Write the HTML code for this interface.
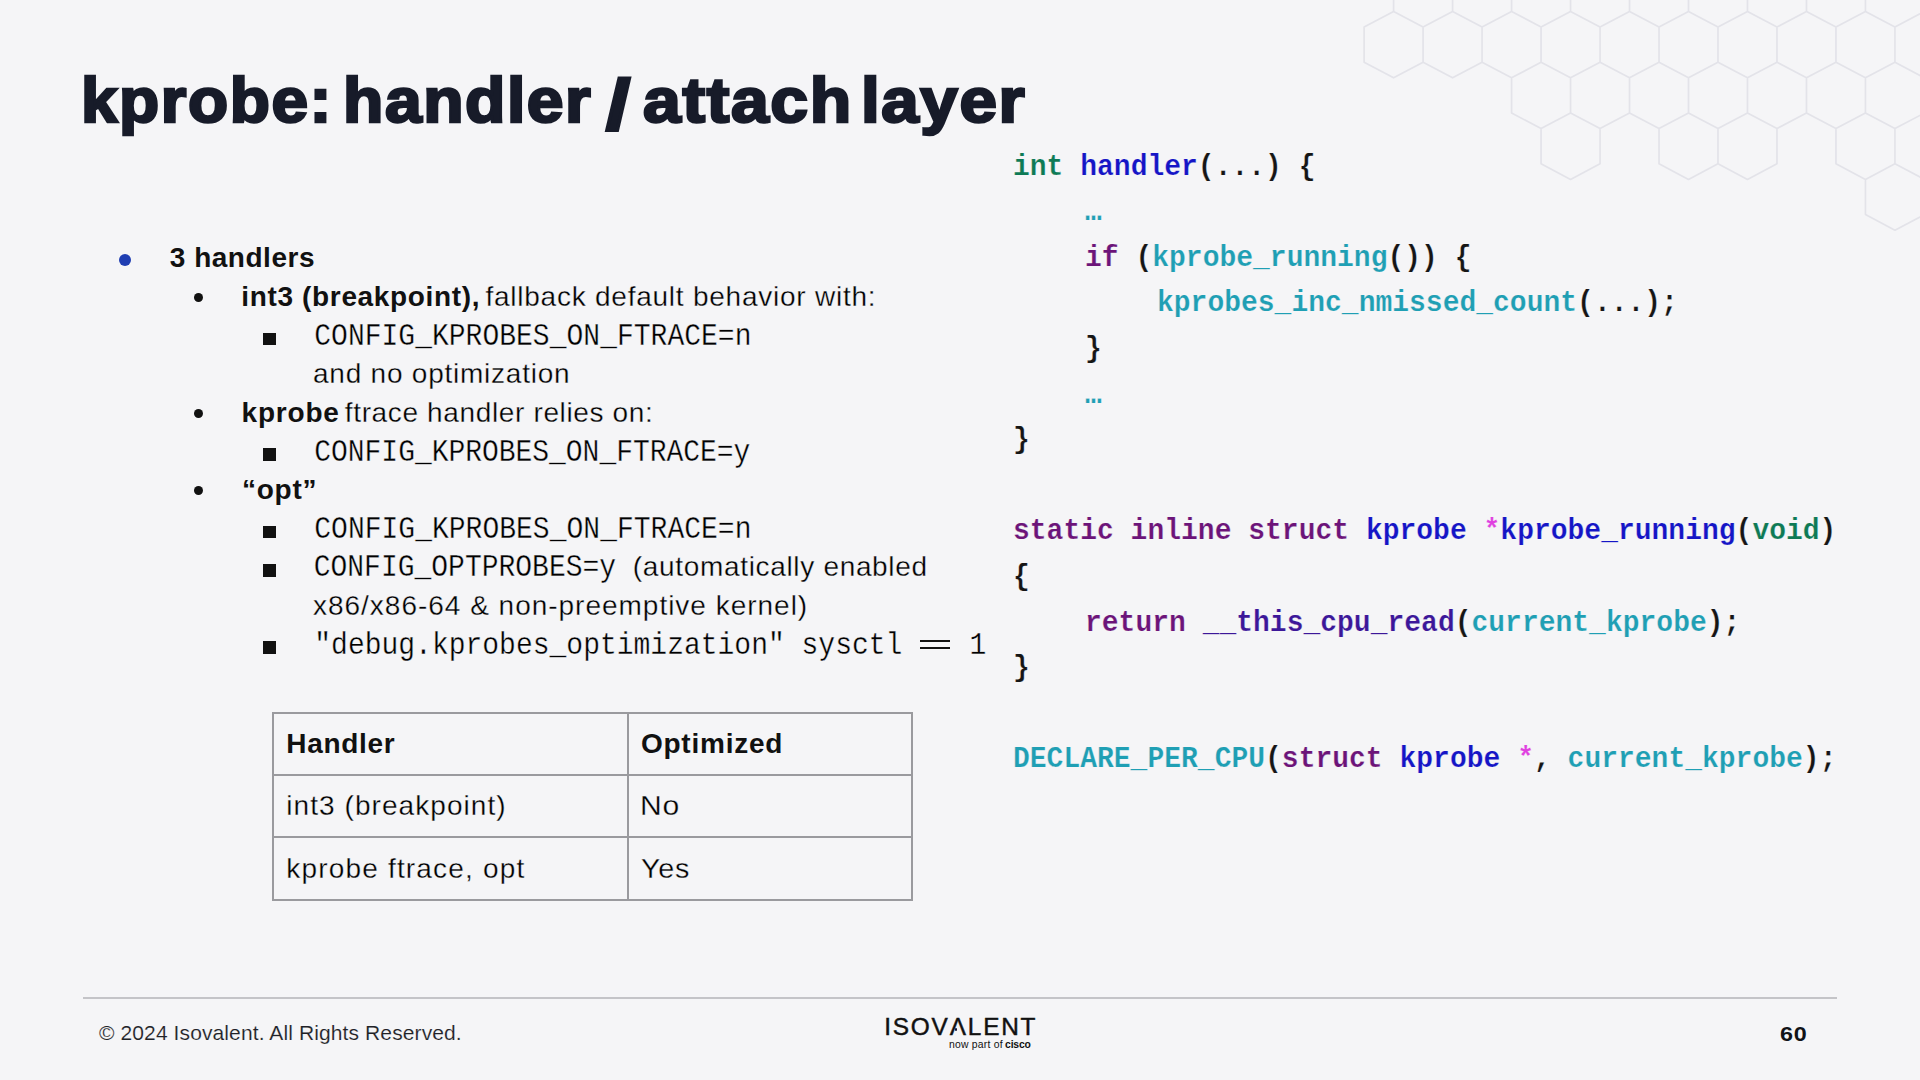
<!DOCTYPE html>
<html><head><meta charset="utf-8"><style>
html,body{margin:0;padding:0;}
body{width:1920px;height:1080px;overflow:hidden;background:#f5f5f7;position:relative;font-family:'Liberation Sans', sans-serif;}
.t{position:absolute;white-space:nowrap;line-height:1;}
.t b{font-weight:700;}
.hex{position:absolute;left:0;top:0;}
.dot{position:absolute;border-radius:50%;}
.sq{position:absolute;}
.tbl{position:absolute;border:2px solid #9a9a9e;box-sizing:border-box;}
.hl{position:absolute;left:0;right:0;height:2px;background:#9a9a9e;}
.vl{position:absolute;top:0;bottom:0;width:2px;background:#9a9a9e;}
</style></head><body>
<svg class="hex" width="1920" height="1080" viewBox="0 0 1920 1080"><path fill="none" stroke="#e3e3e9" stroke-width="1.7" stroke-linejoin="round" d="M1423.10,-39.40 L1452.59,-23.80 L1452.59,11.40 L1423.10,27.00 L1393.61,11.40 L1393.61,-23.80 Z M1482.08,-39.40 L1511.57,-23.80 L1511.57,11.40 L1482.08,27.00 L1452.59,11.40 L1452.59,-23.80 Z M1541.06,-39.40 L1570.55,-23.80 L1570.55,11.40 L1541.06,27.00 L1511.57,11.40 L1511.57,-23.80 Z M1600.04,-39.40 L1629.53,-23.80 L1629.53,11.40 L1600.04,27.00 L1570.55,11.40 L1570.55,-23.80 Z M1659.02,-39.40 L1688.51,-23.80 L1688.51,11.40 L1659.02,27.00 L1629.53,11.40 L1629.53,-23.80 Z M1718.00,-39.40 L1747.49,-23.80 L1747.49,11.40 L1718.00,27.00 L1688.51,11.40 L1688.51,-23.80 Z M1776.98,-39.40 L1806.47,-23.80 L1806.47,11.40 L1776.98,27.00 L1747.49,11.40 L1747.49,-23.80 Z M1835.96,-39.40 L1865.45,-23.80 L1865.45,11.40 L1835.96,27.00 L1806.47,11.40 L1806.47,-23.80 Z M1894.94,-39.40 L1924.43,-23.80 L1924.43,11.40 L1894.94,27.00 L1865.45,11.40 L1865.45,-23.80 Z M1953.92,-39.40 L1983.41,-23.80 L1983.41,11.40 L1953.92,27.00 L1924.43,11.40 L1924.43,-23.80 Z M1393.60,11.40 L1423.09,27.00 L1423.09,62.20 L1393.60,77.80 L1364.11,62.20 L1364.11,27.00 Z M1452.58,11.40 L1482.07,27.00 L1482.07,62.20 L1452.58,77.80 L1423.09,62.20 L1423.09,27.00 Z M1511.56,11.40 L1541.05,27.00 L1541.05,62.20 L1511.56,77.80 L1482.07,62.20 L1482.07,27.00 Z M1570.54,11.40 L1600.03,27.00 L1600.03,62.20 L1570.54,77.80 L1541.05,62.20 L1541.05,27.00 Z M1629.52,11.40 L1659.01,27.00 L1659.01,62.20 L1629.52,77.80 L1600.03,62.20 L1600.03,27.00 Z M1688.50,11.40 L1717.99,27.00 L1717.99,62.20 L1688.50,77.80 L1659.01,62.20 L1659.01,27.00 Z M1747.48,11.40 L1776.97,27.00 L1776.97,62.20 L1747.48,77.80 L1717.99,62.20 L1717.99,27.00 Z M1806.46,11.40 L1835.95,27.00 L1835.95,62.20 L1806.46,77.80 L1776.97,62.20 L1776.97,27.00 Z M1865.44,11.40 L1894.93,27.00 L1894.93,62.20 L1865.44,77.80 L1835.95,62.20 L1835.95,27.00 Z M1924.42,11.40 L1953.91,27.00 L1953.91,62.20 L1924.42,77.80 L1894.93,62.20 L1894.93,27.00 Z M1541.06,62.20 L1570.55,77.80 L1570.55,113.00 L1541.06,128.60 L1511.57,113.00 L1511.57,77.80 Z M1600.04,62.20 L1629.53,77.80 L1629.53,113.00 L1600.04,128.60 L1570.55,113.00 L1570.55,77.80 Z M1659.02,62.20 L1688.51,77.80 L1688.51,113.00 L1659.02,128.60 L1629.53,113.00 L1629.53,77.80 Z M1718.00,62.20 L1747.49,77.80 L1747.49,113.00 L1718.00,128.60 L1688.51,113.00 L1688.51,77.80 Z M1776.98,62.20 L1806.47,77.80 L1806.47,113.00 L1776.98,128.60 L1747.49,113.00 L1747.49,77.80 Z M1835.96,62.20 L1865.45,77.80 L1865.45,113.00 L1835.96,128.60 L1806.47,113.00 L1806.47,77.80 Z M1894.94,62.20 L1924.43,77.80 L1924.43,113.00 L1894.94,128.60 L1865.45,113.00 L1865.45,77.80 Z M1570.54,113.00 L1600.03,128.60 L1600.03,163.80 L1570.54,179.40 L1541.05,163.80 L1541.05,128.60 Z M1688.50,113.00 L1717.99,128.60 L1717.99,163.80 L1688.50,179.40 L1659.01,163.80 L1659.01,128.60 Z M1747.48,113.00 L1776.97,128.60 L1776.97,163.80 L1747.48,179.40 L1717.99,163.80 L1717.99,128.60 Z M1865.44,113.00 L1894.93,128.60 L1894.93,163.80 L1865.44,179.40 L1835.95,163.80 L1835.95,128.60 Z M1924.42,113.00 L1953.91,128.60 L1953.91,163.80 L1924.42,179.40 L1894.93,163.80 L1894.93,128.60 Z M1894.94,163.80 L1924.43,179.40 L1924.43,214.60 L1894.94,230.20 L1865.45,214.60 L1865.45,179.40 Z"/></svg>
<div class="t" style="left:80.87px;top:69.26px;font-size:63px;font-family:'Liberation Sans', sans-serif;font-weight:700;color:#171b29;letter-spacing:1.5px;transform-origin:0 53.34px;transform:scale(1.0433,1);-webkit-text-stroke:2.6px #171b29;">kprobe:</div>
<div class="t" style="left:343.11px;top:69.26px;font-size:63px;font-family:'Liberation Sans', sans-serif;font-weight:700;color:#171b29;letter-spacing:1.5px;transform-origin:0 53.34px;transform:scale(1.0474,1);-webkit-text-stroke:2.6px #171b29;">handler</div>
<div class="t" style="left:642.67px;top:69.26px;font-size:63px;font-family:'Liberation Sans', sans-serif;font-weight:700;color:#171b29;letter-spacing:1.5px;transform-origin:0 53.34px;transform:scale(1.0784,1);-webkit-text-stroke:2.6px #171b29;">attach</div>
<div class="t" style="left:860.79px;top:69.26px;font-size:63px;font-family:'Liberation Sans', sans-serif;font-weight:700;color:#171b29;letter-spacing:1.5px;transform-origin:0 53.34px;transform:scale(1.0688,1);-webkit-text-stroke:2.6px #171b29;">layer</div>
<div class="t" style="left:606.09px;top:75.56px;font-size:63px;font-family:'Liberation Sans', sans-serif;font-weight:700;color:#171b29;letter-spacing:0px;transform-origin:0 53.34px;transform:scale(1.3889,1.106);-webkit-text-stroke:2.6px #171b29;">/</div>
<div class="dot" style="left:119.1px;top:254.10px;width:12.1px;height:12.1px;background:#1f3eb2"></div>
<div class="dot" style="left:193.9px;top:293.30px;width:9.2px;height:9.2px;background:#111"></div>
<div class="dot" style="left:193.9px;top:409.10px;width:9.2px;height:9.2px;background:#111"></div>
<div class="dot" style="left:193.9px;top:486.30px;width:9.2px;height:9.2px;background:#111"></div>
<div class="sq" style="left:263.4px;top:332.60px;width:12.8px;height:12.4px;background:#111"></div>
<div class="sq" style="left:263.4px;top:448.40px;width:12.8px;height:12.4px;background:#111"></div>
<div class="sq" style="left:263.4px;top:525.60px;width:12.8px;height:12.4px;background:#111"></div>
<div class="sq" style="left:263.4px;top:564.20px;width:12.8px;height:12.4px;background:#111"></div>
<div class="sq" style="left:263.4px;top:641.40px;width:12.8px;height:12.4px;background:#111"></div>
<div class="t" style="left:169.80px;top:244.29px;font-size:28px;font-family:'Liberation Sans', sans-serif;font-weight:700;color:#111111;letter-spacing:0.511px;">3 handlers</div>
<div class="t" style="left:241.30px;top:282.89px;font-size:28px;font-family:'Liberation Sans', sans-serif;font-weight:700;color:#111111;letter-spacing:0.652px;">int3 (breakpoint),</div>
<div class="t" style="left:241.60px;top:398.69px;font-size:28px;font-family:'Liberation Sans', sans-serif;font-weight:700;color:#111111;letter-spacing:0.8px;">kprobe</div>
<div class="t" style="left:242.00px;top:475.89px;font-size:28px;font-family:'Liberation Sans', sans-serif;font-weight:700;color:#111111;letter-spacing:0.75px;">“opt”</div>
<div class="t" style="left:485.40px;top:282.89px;font-size:28px;font-family:'Liberation Sans', sans-serif;font-weight:400;color:#000;letter-spacing:0.764px;-webkit-text-stroke:0.3px #f5f5f7;">fallback default behavior with:</div>
<div class="t" style="left:313.00px;top:360.09px;font-size:28px;font-family:'Liberation Sans', sans-serif;font-weight:400;color:#000;letter-spacing:0.767px;-webkit-text-stroke:0.3px #f5f5f7;">and no optimization</div>
<div class="t" style="left:344.80px;top:398.69px;font-size:28px;font-family:'Liberation Sans', sans-serif;font-weight:400;color:#000;letter-spacing:0.642px;-webkit-text-stroke:0.3px #f5f5f7;">ftrace handler relies on:</div>
<div class="t" style="left:632.80px;top:553.09px;font-size:28px;font-family:'Liberation Sans', sans-serif;font-weight:400;color:#000;letter-spacing:0.672px;-webkit-text-stroke:0.3px #f5f5f7;">(automatically enabled</div>
<div class="t" style="left:313.00px;top:591.69px;font-size:28px;font-family:'Liberation Sans', sans-serif;font-weight:400;color:#000;letter-spacing:0.985px;-webkit-text-stroke:0.3px #f5f5f7;">x86/x86-64 &amp; non-preemptive kernel)</div>
<div class="t" style="left:313.60px;top:323.75px;font-size:28px;font-family:'Liberation Mono', monospace;font-weight:400;color:#000;letter-spacing:0.012px;transform-origin:0 21.45px;transform:scale(1,1.1);-webkit-text-stroke:0.3px #f5f5f7;margin-left:0.7px;">CONFIG_KPROBES_ON_FTRACE=n</div>
<div class="t" style="left:313.60px;top:439.55px;font-size:28px;font-family:'Liberation Mono', monospace;font-weight:400;color:#000;letter-spacing:-0.032px;transform-origin:0 21.45px;transform:scale(1,1.1);-webkit-text-stroke:0.3px #f5f5f7;margin-left:0.7px;">CONFIG_KPROBES_ON_FTRACE=y</div>
<div class="t" style="left:313.60px;top:516.75px;font-size:28px;font-family:'Liberation Mono', monospace;font-weight:400;color:#000;letter-spacing:0.012px;transform-origin:0 21.45px;transform:scale(1,1.1);-webkit-text-stroke:0.3px #f5f5f7;margin-left:0.7px;">CONFIG_KPROBES_ON_FTRACE=n</div>
<div class="t" style="left:313.00px;top:555.35px;font-size:28px;font-family:'Liberation Mono', monospace;font-weight:400;color:#000;letter-spacing:0.0px;transform-origin:0 21.45px;transform:scale(1,1.1);-webkit-text-stroke:0.3px #f5f5f7;margin-left:0.7px;">CONFIG_OPTPROBES=y</div>
<div class="t" style="left:313.60px;top:632.55px;font-size:28px;font-family:'Liberation Mono', monospace;font-weight:400;color:#000;letter-spacing:0px;transform-origin:0 21.45px;transform:scale(1,1.1);white-space:pre;margin-left:0.7px;-webkit-text-stroke:0.3px #f5f5f7;">"debug.kprobes_optimization" sysctl    1</div>
<div style="position:absolute;left:920px;top:640px;width:29.8px;height:2.3px;background:#111"></div>
<div style="position:absolute;left:920px;top:646.6px;width:29.8px;height:2.3px;background:#111"></div>
<div class="tbl" style="left:272.3px;top:712.2px;width:641.2px;height:188.8px">
<div class="hl" style="top:60px"></div><div class="hl" style="top:122.0px"></div>
<div class="vl" style="left:352.7px"></div>
</div>
<div class="t" style="left:286.30px;top:730.29px;font-size:28px;font-family:'Liberation Sans', sans-serif;font-weight:700;color:#111111;letter-spacing:0.7px;">Handler</div>
<div class="t" style="left:640.90px;top:730.29px;font-size:28px;font-family:'Liberation Sans', sans-serif;font-weight:700;color:#111111;letter-spacing:0.775px;">Optimized</div>
<div class="t" style="left:286.30px;top:791.89px;font-size:28px;font-family:'Liberation Sans', sans-serif;font-weight:400;color:#000;letter-spacing:1.062px;-webkit-text-stroke:0.3px #f5f5f7;">int3 (breakpoint)</div>
<div class="t" style="left:640.45px;top:791.89px;font-size:28px;font-family:'Liberation Sans', sans-serif;font-weight:400;color:#000;letter-spacing:0.8px;transform-origin:0 23.71px;transform:scale(1.0759,1);-webkit-text-stroke:0.3px #f5f5f7;">No</div>
<div class="t" style="left:286.30px;top:854.69px;font-size:28px;font-family:'Liberation Sans', sans-serif;font-weight:400;color:#000;letter-spacing:1.176px;-webkit-text-stroke:0.3px #f5f5f7;">kprobe ftrace, opt</div>
<div class="t" style="left:640.87px;top:854.69px;font-size:28px;font-family:'Liberation Sans', sans-serif;font-weight:400;color:#000;letter-spacing:0.8px;transform-origin:0 23.71px;transform:scale(1.0251,1);-webkit-text-stroke:0.3px #f5f5f7;">Yes</div>
<div class="t" style="left:1013.00px;top:153.55px;font-size:28px;font-family:'Liberation Mono', monospace;font-weight:700;color:#151515;letter-spacing:0px;transform-origin:0 21.45px;transform:scale(1,1.05);white-space:pre;-webkit-text-stroke:0.2px #f5f5f7;"><span style="color:#0e7a55">int</span> <span style="color:#1515c6">handler</span><span style="color:#151515">(...) {</span></div>
<div class="t" style="left:1085.00px;top:199.15px;font-size:28px;font-family:'Liberation Mono', monospace;font-weight:700;color:#151515;letter-spacing:0px;transform-origin:0 21.45px;transform:scale(1,1.05);white-space:pre;-webkit-text-stroke:0.2px #f5f5f7;"><span style="color:#1f9fb4">…</span></div>
<div class="t" style="left:1085.00px;top:244.75px;font-size:28px;font-family:'Liberation Mono', monospace;font-weight:700;color:#151515;letter-spacing:0px;transform-origin:0 21.45px;transform:scale(1,1.05);white-space:pre;-webkit-text-stroke:0.2px #f5f5f7;"><span style="color:#6c1479">if</span> <span style="color:#151515">(</span><span style="color:#1f9fb4">kprobe_running</span><span style="color:#151515">()) {</span></div>
<div class="t" style="left:1157.00px;top:290.35px;font-size:28px;font-family:'Liberation Mono', monospace;font-weight:700;color:#151515;letter-spacing:0px;transform-origin:0 21.45px;transform:scale(1,1.05);white-space:pre;-webkit-text-stroke:0.2px #f5f5f7;"><span style="color:#1f9fb4">kprobes_inc_nmissed_count</span><span style="color:#151515">(...);</span></div>
<div class="t" style="left:1085.00px;top:335.95px;font-size:28px;font-family:'Liberation Mono', monospace;font-weight:700;color:#151515;letter-spacing:0px;transform-origin:0 21.45px;transform:scale(1,1.05);white-space:pre;-webkit-text-stroke:0.2px #f5f5f7;"><span style="color:#151515">}</span></div>
<div class="t" style="left:1085.00px;top:381.55px;font-size:28px;font-family:'Liberation Mono', monospace;font-weight:700;color:#151515;letter-spacing:0px;transform-origin:0 21.45px;transform:scale(1,1.05);white-space:pre;-webkit-text-stroke:0.2px #f5f5f7;"><span style="color:#1f9fb4">…</span></div>
<div class="t" style="left:1013.00px;top:427.15px;font-size:28px;font-family:'Liberation Mono', monospace;font-weight:700;color:#151515;letter-spacing:0px;transform-origin:0 21.45px;transform:scale(1,1.05);white-space:pre;-webkit-text-stroke:0.2px #f5f5f7;"><span style="color:#151515">}</span></div>
<div class="t" style="left:1013.00px;top:518.35px;font-size:28px;font-family:'Liberation Mono', monospace;font-weight:700;color:#151515;letter-spacing:0px;transform-origin:0 21.45px;transform:scale(1,1.05);white-space:pre;-webkit-text-stroke:0.2px #f5f5f7;"><span style="color:#6c1479">static inline struct</span> <span style="color:#1515c6">kprobe</span> <span style="color:#e040e0">*</span><span style="color:#1515c6">kprobe_running</span><span style="color:#151515">(</span><span style="color:#0e7a55">void</span><span style="color:#151515">)</span></div>
<div class="t" style="left:1013.00px;top:563.95px;font-size:28px;font-family:'Liberation Mono', monospace;font-weight:700;color:#151515;letter-spacing:0px;transform-origin:0 21.45px;transform:scale(1,1.05);white-space:pre;-webkit-text-stroke:0.2px #f5f5f7;"><span style="color:#151515">{</span></div>
<div class="t" style="left:1085.00px;top:609.55px;font-size:28px;font-family:'Liberation Mono', monospace;font-weight:700;color:#151515;letter-spacing:0px;transform-origin:0 21.45px;transform:scale(1,1.05);white-space:pre;-webkit-text-stroke:0.2px #f5f5f7;"><span style="color:#6c1479">return</span> <span style="color:#3c1799">__this_cpu_read</span><span style="color:#151515">(</span><span style="color:#1f9fb4">current_kprobe</span><span style="color:#151515">);</span></div>
<div class="t" style="left:1013.00px;top:655.15px;font-size:28px;font-family:'Liberation Mono', monospace;font-weight:700;color:#151515;letter-spacing:0px;transform-origin:0 21.45px;transform:scale(1,1.05);white-space:pre;-webkit-text-stroke:0.2px #f5f5f7;"><span style="color:#151515">}</span></div>
<div class="t" style="left:1013.00px;top:746.35px;font-size:28px;font-family:'Liberation Mono', monospace;font-weight:700;color:#151515;letter-spacing:0px;transform-origin:0 21.45px;transform:scale(1,1.05);white-space:pre;-webkit-text-stroke:0.2px #f5f5f7;"><span style="color:#1f9fb4">DECLARE_PER_CPU</span><span style="color:#151515">(</span><span style="color:#6c1479">struct</span> <span style="color:#1515c6">kprobe</span> <span style="color:#e040e0">*</span><span style="color:#151515">,</span> <span style="color:#1f9fb4">current_kprobe</span><span style="color:#151515">);</span></div>
<div style="position:absolute;left:83px;top:997.2px;width:1754px;height:1.8px;background:#c4c4c8"></div>
<div class="t" style="left:99.00px;top:1022.22px;font-size:21px;font-family:'Liberation Sans', sans-serif;font-weight:400;color:#202126;letter-spacing:0.108px;-webkit-text-stroke:0.15px #f5f5f7;">© 2024 Isovalent. All Rights Reserved.</div>
<div class="t" style="left:1779.89px;top:1023.43px;font-size:21.1px;font-family:'Liberation Sans', sans-serif;font-weight:700;color:#111318;letter-spacing:0.8px;transform-origin:0 17.87px;transform:scale(1.1068,1);">60</div>
<div class="t" style="left:884.20px;top:1014.94px;font-size:24.4px;font-family:'Liberation Sans', sans-serif;font-weight:400;color:#111;letter-spacing:1.8px;-webkit-text-stroke:0.45px #111;">ISOVΛLENT</div>
<div class="t" style="left:948.90px;top:1040.39px;font-size:10.4px;font-family:'Liberation Sans', sans-serif;font-weight:400;color:#111;letter-spacing:0.24px;">now part of</div>
<div class="t" style="left:1005.00px;top:1040.39px;font-size:10.4px;font-family:'Liberation Sans', sans-serif;font-weight:700;color:#111;letter-spacing:-0.15px;">cisco</div>
<div class="dot" style="left:954.6px;top:1028.3px;width:2.4px;height:2.4px;background:#1a1a3a"></div>
</body></html>
